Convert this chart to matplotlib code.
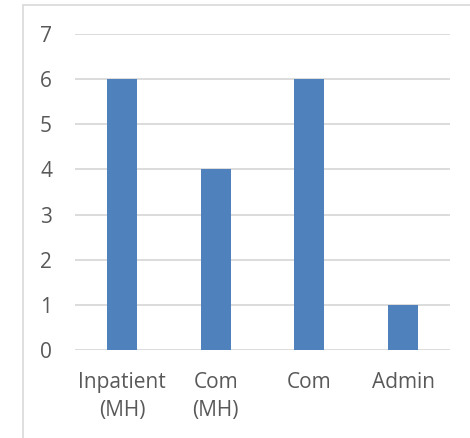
import matplotlib
matplotlib.use("Agg")
import matplotlib.pyplot as plt
from matplotlib.patches import Rectangle

categories = ["Inpatient\n(MH)", "Com\n(MH)", "Com", "Admin"]
values = [6, 4, 6, 1]
y_ticks = [0, 1, 2, 3, 4, 5, 6, 7]

W, H = 470, 438
fig = plt.figure(figsize=(W / 100, H / 100), dpi=100)
plt.rcParams['font.family'] = ['Open Sans', 'DejaVu Sans']

# chart-area frame (only the top and left edges fall inside the image)
fig.patches.append(Rectangle((23 / W, -0.05), 1.1, 1 - 5 / H + 0.05,
                             transform=fig.transFigure, fill=False,
                             edgecolor="#D9D9D9", linewidth=1.2))

ax = fig.add_axes([75 / W, 1 - 350 / H, 375 / W, 316 / H])
x = list(range(len(categories)))
ax.bar(x, values, width=0.32, color="#4F81BD", zorder=3)
ax.set_xlim(-0.5, len(categories) - 0.5)
ax.set_ylim(0, 7)
ax.set_yticks(y_ticks)
ax.set_xticks(x)
ax.set_xticklabels(categories, linespacing=1.45)
ax.yaxis.grid(True, color="#D9D9D9", linewidth=1.3, zorder=0)
ax.set_axisbelow(True)
for s in ax.spines.values():
    s.set_visible(False)
ax.tick_params(axis="both", length=0, labelsize=15, labelcolor="#595959")
ax.tick_params(axis="y", pad=16.5)
ax.tick_params(axis="x", pad=15.5)

fig.savefig("out.png", dpi=100)
